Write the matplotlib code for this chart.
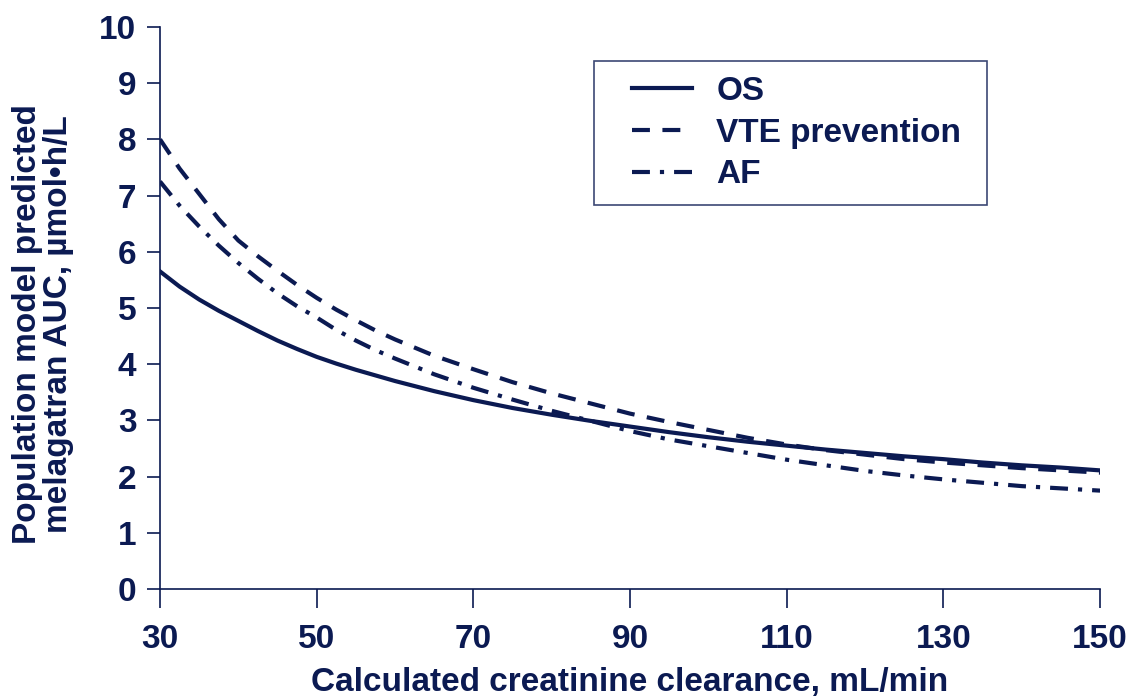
import matplotlib
matplotlib.use('Agg')
import matplotlib.pyplot as plt
from matplotlib.legend_handler import HandlerLine2D

# creatinine clearance grid (mL/min) and predicted AUC per population
clcr = [30, 32.5, 35, 37.5, 40, 42.5, 45, 47.5, 50, 52.5, 55, 57.5, 60, 65, 70, 75, 80, 85, 90,
        95, 100, 105, 110, 115, 120, 125, 130, 135, 140, 145, 150]
auc_os = [5.65, 5.38, 5.15, 4.95, 4.77, 4.59, 4.42, 4.27, 4.13, 4.01, 3.90, 3.80, 3.70,
          3.52, 3.36, 3.22, 3.10, 2.99, 2.89,
          2.79, 2.70, 2.62, 2.55, 2.48, 2.42, 2.36, 2.31, 2.25, 2.20, 2.16, 2.11]
auc_vte = [8.00, 7.48, 7.03, 6.58, 6.20, 5.92, 5.66, 5.41, 5.18, 4.97, 4.78, 4.60, 4.44,
           4.15, 3.91, 3.68, 3.48, 3.30, 3.12,
           2.97, 2.83, 2.69, 2.57, 2.47, 2.39, 2.31, 2.25, 2.20, 2.15, 2.11, 2.07]
auc_af = [7.25, 6.82, 6.45, 6.11, 5.80, 5.52, 5.26, 5.03, 4.83, 4.61, 4.42, 4.25, 4.10,
          3.82, 3.58, 3.37, 3.17, 2.99, 2.81,
          2.66, 2.54, 2.42, 2.30, 2.20, 2.10, 2.02, 1.95, 1.89, 1.83, 1.79, 1.75]
labels = ['OS', 'VTE prevention', 'AF']
xticks = [30, 50, 70, 90, 110, 130, 150]
yticks = list(range(0, 11))

navy = '#0b1a52'
plt.rcParams['font.family'] = ['Liberation Sans', 'DejaVu Sans']
plt.rcParams['font.weight'] = 'bold'


class IndentedLine(HandlerLine2D):
    # legend sample line starts a bit inside its handle box
    def get_xdata(self, legend, xdescent, ydescent, width, height, fontsize):
        x = [-xdescent + 0.7 * fontsize, -xdescent + width]
        return x, x


fig = plt.figure(figsize=(11.3, 6.98), dpi=100)
ax = fig.add_axes([0.1416, 0.1562, 0.8319, 0.8052])

lw = 3.0
l1, = ax.plot(clcr, auc_os, color=navy, lw=lw, linestyle='-', label=labels[0])
l2, = ax.plot(clcr, auc_vte, color=navy, lw=lw, linestyle=(0, (4.3, 3.0)), label=labels[1])
l3, = ax.plot(clcr, auc_af, color=navy, lw=lw, linestyle=(0, (4.3, 2.4, 1, 2.4)), label=labels[2])

ax.set_xlim(30, 150)
ax.set_ylim(0, 10)
ax.set_xticks(xticks)
ax.set_yticks(yticks)

for side in ['top', 'right']:
    ax.spines[side].set_visible(False)
for side in ['left', 'bottom']:
    ax.spines[side].set_color(navy)
    ax.spines[side].set_linewidth(1.2)

fs = 24
ax.tick_params(axis='both', colors=navy, labelcolor=navy, labelsize=fs, width=1.2)
ax.tick_params(axis='y', length=9.5, pad=7.5)
ax.tick_params(axis='x', length=14, pad=11)

ax.set_xlabel('Calculated creatinine clearance, mL/min', fontsize=fs,
              color=navy, fontweight='bold', labelpad=9)
ax.set_ylabel('Population model predicted\nmelagatran AUC, µmol•h/L', fontsize=fs,
              color=navy, fontweight='bold', linespacing=1.0)
ax.yaxis.set_label_coords(-0.091, 0.472)

leg = ax.legend(loc='upper left', bbox_to_anchor=(0.4617, 0.5, 0.418, 0.4395),
                mode='expand', fontsize=fs, frameon=True, fancybox=False,
                handlelength=2.5, handletextpad=0.72, borderpad=0.45,
                labelspacing=0.32, borderaxespad=0,
                handler_map={l1: IndentedLine(), l2: IndentedLine(), l3: IndentedLine()})
leg.get_frame().set_edgecolor(navy)
leg.get_frame().set_linewidth(1.2)
for t in leg.get_texts():
    t.set_color(navy)

fig.savefig('out.png', dpi=100)
